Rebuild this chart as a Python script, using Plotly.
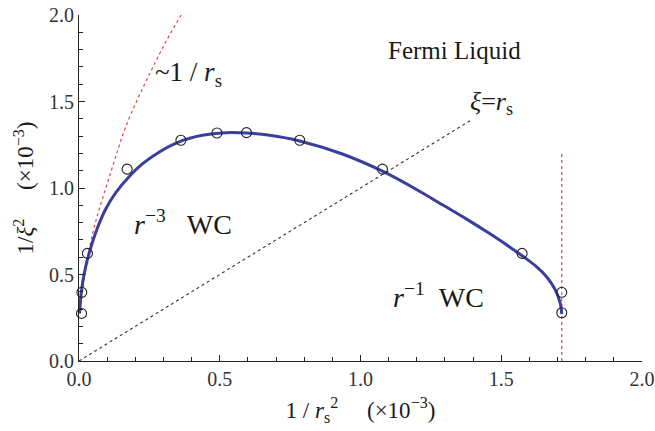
import plotly.graph_objects as go

# ---- data ----
pts_x = [0.009, 0.010, 0.030, 0.171, 0.362, 0.490, 0.595, 0.784, 1.078, 1.574, 1.715, 1.715]
pts_y = [0.275, 0.397, 0.622, 1.109, 1.276, 1.318, 1.320, 1.276, 1.109, 0.622, 0.397, 0.279]

curve_x = [0.002, 0.009, 0.023, 0.041, 0.065, 0.094, 0.130, 0.177, 0.225, 0.284, 0.355, 0.438,
           0.521, 0.595, 0.677, 0.784, 0.938, 1.078, 1.211, 1.294, 1.377, 1.460, 1.531, 1.578,
           1.626, 1.661, 1.691, 1.709, 1.715]
curve_y = [0.275, 0.410, 0.540, 0.651, 0.767, 0.876, 0.972, 1.064, 1.139, 1.207, 1.267, 1.305,
           1.320, 1.318, 1.305, 1.272, 1.195, 1.097, 0.980, 0.900, 0.820, 0.735, 0.658, 0.604,
           0.544, 0.487, 0.414, 0.337, 0.271]

rs_x = [0.010, 0.020, 0.047, 0.076, 0.106, 0.136, 0.165, 0.210, 0.260, 0.310, 0.370]
rs_y = [0.360, 0.490, 0.727, 0.900, 1.055, 1.210, 1.350, 1.520, 1.690, 1.850, 2.020]

diag_x = [0.0, 1.39]
diag_y = [0.0, 1.39]

vline_x = [1.715, 1.715]
vline_y = [0.0, 1.20]

x_ticks = [0.0, 0.5, 1.0, 1.5, 2.0]
y_ticks = [0.0, 0.5, 1.0, 1.5, 2.0]

SERIF = "Liberation Serif"
NB = "\u00a0"

fig = go.Figure()
fig.add_trace(go.Scatter(x=diag_x, y=diag_y, mode="lines",
                         line=dict(color="#333333", width=1.1, dash="dot"), hoverinfo="skip"))
fig.add_trace(go.Scatter(x=rs_x, y=rs_y, mode="lines", line_shape="spline",
                         line=dict(color="#e8424a", width=1.2, dash="dot"), hoverinfo="skip"))
fig.add_trace(go.Scatter(x=vline_x, y=vline_y, mode="lines",
                         line=dict(color="#e8424a", width=1.2, dash="dot"), hoverinfo="skip"))
fig.add_trace(go.Scatter(x=curve_x, y=curve_y, mode="lines", line_shape="spline",
                         line=dict(color="#3a3f9e", width=3, smoothing=1.0), hoverinfo="skip"))
fig.add_trace(go.Scatter(x=pts_x, y=pts_y, mode="markers",
                         marker=dict(symbol="circle-open", size=10, color="#222222",
                                     line=dict(width=1.1, color="#222222")),
                         cliponaxis=False, hoverinfo="skip"))

def tfont(size):
    return dict(family=SERIF, size=size, color="#1a1a1a")

annotations = [
    dict(x=1.335, y=1.796, text="Fermi Liquid", xanchor="center", yanchor="middle", font=tfont(25)),
    dict(x=0.262, y=1.66, text="~1" + NB + "/" + NB + "<i>r</i><sub>s</sub>", xanchor="left", yanchor="middle",
         font=tfont(27)),
    dict(x=1.383, y=1.49, text="<i>ξ</i>=<i>r</i><sub>s</sub>", xanchor="left", yanchor="middle",
         font=tfont(26)),
    dict(x=0.19, y=0.80, text="<i>r</i><sup>−3</sup>" + NB * 3 + "WC", xanchor="left", yanchor="middle",
         font=tfont(28)),
    dict(x=1.11, y=0.38, text="<i>r</i><sup>−1</sup>" + NB * 2 + "WC", xanchor="left", yanchor="middle",
         font=tfont(28)),
]
for a in annotations:
    a.update(xref="x", yref="y", showarrow=False)

axis_common = dict(
    showgrid=False, zeroline=False, showline=True, linecolor="#222222", linewidth=1.2,
    ticks="inside", ticklen=6, tickwidth=1, tickcolor="#222222",
    tickfont=dict(family=SERIF, size=20, color="#333333"),
    tickformat=".1f", mirror=False, automargin=False, ticklabeloverflow="allow",
    minor=dict(dtick=0.1, ticks="inside", ticklen=3.5, tickwidth=1, tickcolor="#222222", showgrid=False),
)

fig.update_layout(
    width=655, height=431,
    margin=dict(l=79, r=13, t=15, b=70),
    paper_bgcolor="white", plot_bgcolor="white",
    font=dict(family=SERIF, color="#1a1a1a"),
    showlegend=False,
    hovermode=False,
    annotations=annotations,
    xaxis=dict(range=[0, 2.0], tickvals=x_ticks, **axis_common,
               title=dict(text="1" + NB + "/" + NB + "<i>r</i><sub>s</sub><sup>2</sup>" + NB * 5 + "(×10<sup>−3</sup>)",
                          font=tfont(23), standoff=12)),
    yaxis=dict(range=[0, 2.0], tickvals=y_ticks, **axis_common,
               title=dict(text="1/<i>ξ</i><sup>2</sup>" + NB * 5 + "(×10<sup>−3</sup>)",
                          font=tfont(23), standoff=8)),
)

# remove the browser's default 8px body margin so the figure fills the window exactly
fig.write_html("out.html", config={"displayModeBar": False},
               post_script="document.body.style.margin='0px';")
